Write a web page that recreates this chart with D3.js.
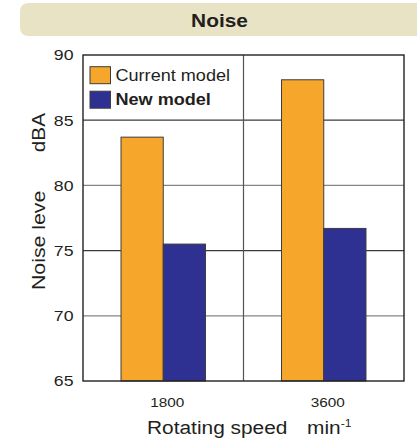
<!DOCTYPE html>
<html>
<head>
<meta charset="utf-8">
<script src="https://cdn.jsdelivr.net/npm/d3@7"></script>
<style>
  html, body { margin: 0; padding: 0; background: #fff; }
  svg { display: block; font-family: "Liberation Sans", Arial, Helvetica, sans-serif; }
</style>
</head>
<body>
<div id="chart"></div>
<script>
// Noise level of the current and the new model at two rotating speeds
const categories = ["1800", "3600"];
const seriesNames = ["Current model", "New model"];
const currentModel = [83.7, 88.1];
const newModel = [75.5, 76.7];
const yTicks = [65, 70, 75, 80, 85, 90];
const seriesColors = ["#f6a62b", "#2e3192"];

const width = 417, height = 440;
const margin = { top: 55, right: 13, bottom: 59, left: 83 };
const ink = "#231f20";
const stretch = 1.15; // wide sans glyphs

const svg = d3.select("#chart").append("svg")
  .attr("width", width).attr("height", height);

// title banner
svg.append("rect")
  .attr("x", 20).attr("y", 3).attr("width", 420).attr("height", 33)
  .attr("rx", 8).attr("fill", "#e9e3c6");

function label(g, x, y, text, opts) {
  const o = Object.assign({ size: 15, anchor: "middle", weight: "normal", sx: stretch, rotate: 0 }, opts);
  return g.append("text")
    .attr("transform", `translate(${x},${y}) rotate(${o.rotate}) scale(${o.sx},1)`)
    .attr("text-anchor", o.anchor)
    .attr("font-size", o.size)
    .attr("font-weight", o.weight)
    .attr("fill", ink)
    .text(text);
}

label(svg, 219.5, 26.5, "Noise", { size: 18.5, weight: "bold", sx: 1.13 });

const x0 = margin.left, x1 = width - margin.right;
const yTop = margin.top, yBot = height - margin.bottom;

const x = d3.scaleBand().domain(categories).range([x0, x1]).padding(0);
const xs = d3.scaleBand().domain(seriesNames).range([0, x.bandwidth()])
  .paddingInner(0).paddingOuter(0.9);
const y = d3.scaleLinear().domain([65, 90]).range([yBot, yTop]);

// horizontal grid lines
svg.append("g").selectAll("line")
  .data(yTicks.filter(t => t > 65 && t < 90))
  .join("line")
  .attr("x1", x0).attr("x2", x1)
  .attr("y1", d => y(d)).attr("y2", d => y(d))
  .attr("stroke", d => (d % 10 === 5 ? "#3a3a3a" : "#858585"))
  .attr("stroke-width", 1.3);

// divider between the speed groups
svg.append("g").selectAll("line")
  .data(categories.slice(1))
  .join("line")
  .attr("x1", d => x(d)).attr("x2", d => x(d))
  .attr("y1", yTop).attr("y2", yBot)
  .attr("stroke", "#555").attr("stroke-width", 1.2);

// bars
const values = [currentModel, newModel];
const rows = [];
categories.forEach((c, i) => seriesNames.forEach((s, j) => rows.push({ c, s, j, v: values[j][i] })));

svg.append("g").selectAll("rect")
  .data(rows)
  .join("rect")
  .attr("x", d => x(d.c) + xs(d.s))
  .attr("y", d => y(d.v))
  .attr("width", xs.bandwidth())
  .attr("height", d => y(65) - y(d.v))
  .attr("fill", d => seriesColors[d.j])
  .attr("stroke", "#3d3d3d")
  .attr("stroke-width", 1);

// plot frame
svg.append("rect")
  .attr("x", x0).attr("y", yTop)
  .attr("width", x1 - x0).attr("height", yBot - yTop)
  .attr("fill", "none").attr("stroke", "#222").attr("stroke-width", 1.4);

// y axis labels
const yAxis = svg.append("g");
yTicks.forEach(t => label(yAxis, 73.5, y(t) + 5.3, String(t), { size: 15, anchor: "end", sx: 1.18 }));

// x axis labels
const xAxis = svg.append("g");
categories.forEach(c => label(xAxis, x(c) + x.bandwidth() / 2 + 4, 407, c, { size: 13, sx: 1.18 }));

// axis titles
const titles = svg.append("g");
label(titles, 147, 434, "Rotating speed", { size: 18, anchor: "start", sx: 1.16 });
const unit = titles.append("text")
  .attr("transform", `translate(307,434) scale(1.16,1)`)
  .attr("font-size", 18).attr("fill", ink);
unit.append("tspan").text("min");
unit.append("tspan").attr("font-size", 10.5).attr("dy", -7.5).text("-1");

label(titles, 44.5, 290, "Noise leve", { size: 18.5, anchor: "start", rotate: -90, sx: 1.15 });
label(titles, 44.5, 113, "dBA", { size: 18.5, anchor: "end", rotate: -90, sx: 1.12 });

// legend
const legend = svg.append("g");
seriesNames.forEach((s, j) => {
  const ly = 66.7 + j * 24.5;
  legend.append("rect")
    .attr("x", 90).attr("y", ly).attr("width", 20.5).attr("height", 17)
    .attr("fill", seriesColors[j]).attr("stroke", "#3d3d3d").attr("stroke-width", 1);
  label(legend, 115.5, ly + 14, s, { size: 16, anchor: "start", weight: j === 1 ? "bold" : "normal", sx: 1.13 });
});
</script>
</body>
</html>
